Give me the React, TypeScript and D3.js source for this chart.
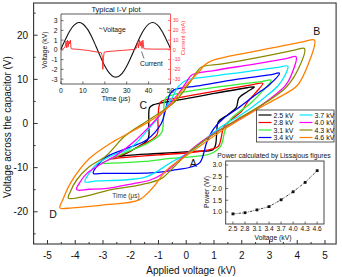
import React from "react";
import * as d3 from "d3";

type P = [number, number];

const legendLabels = ["2.5 kV", "2.8 kV", "3.1 kV", "3.4 kV", "3.7 kV", "4.0 kV", "4.3 kV", "4.6 kV"];
const loopColors = ["#000000", "#ff0000", "#33ee33", "#0000ff", "#00e8ff", "#ff00ff", "#8a8a00", "#ff7f00"];

// Lissajous loops: applied voltage (kV) vs capacitor voltage (V)
const loop25: P[] = [[-2.45,-7.5],[-2.1,-7.2],[-1.0,-6.8],[0.3,-6.3],[0.95,-6.0],[1.05,-5.0],[1.1,-2.0],[1.15,0.3],[1.5,2.0],[1.8,3.6],[1.9,5.8],[2.2,7.2],[2.46,8.3],[2.2,8.1],[1.0,6.8],[-0.2,5.4],[-1.2,4.2],[-1.32,3.6],[-1.35,0.0],[-1.38,-3.6],[-1.8,-5.5],[-2.2,-6.9]];
const loop28: P[] = [[-2.75,-8.0],[-2.4,-7.8],[-1.0,-7.1],[0.38,-6.4],[1.15,-5.2],[1.25,-3.5],[1.35,-0.8],[1.6,0.8],[2.0,2.8],[2.2,4.8],[2.5,7.0],[2.76,9.1],[2.4,8.8],[1.0,7.3],[-0.3,5.8],[-0.9,5.0],[-0.97,4.2],[-1.02,1.0],[-1.06,-2.6],[-1.7,-5.2],[-2.35,-7.2]];
const loop31: P[] = [[-3.05,-9.0],[-2.7,-9.0],[-1.5,-8.6],[-0.58,-7.9],[0.25,-7.5],[0.9,-6.8],[1.25,-5.0],[1.4,-1.5],[1.6,1.0],[1.9,2.6],[2.3,4.5],[2.7,7.0],[3.06,9.8],[2.7,9.5],[1.3,8.4],[0.0,7.2],[-0.7,6.0],[-0.78,5.2],[-0.82,1.5],[-0.9,-2.2],[-1.5,-4.8],[-2.2,-6.6],[-2.7,-8.0]];
const loop34: P[] = [[-3.35,-11.3],[-3.0,-11.3],[-2.0,-11.3],[-1.3,-11.2],[-0.5,-10.6],[0.2,-9.8],[0.5,-8.8],[0.75,-4.1],[1.0,-1.1],[1.35,1.2],[1.85,3.4],[2.5,6.5],[3.0,8.8],[3.36,11.4],[3.0,11.0],[1.8,10.0],[0.5,8.6],[-0.45,7.6],[-0.6,6.5],[-0.75,3.0],[-0.9,0.0],[-1.42,-3.7],[-2.0,-5.3],[-2.86,-7.5],[-3.2,-9.5]];
const loop37: P[] = [[-3.65,-13.2],[-3.2,-13.0],[-2.26,-12.8],[-1.5,-12.2],[-1.06,-10.9],[-0.6,-9.0],[0.2,-6.2],[0.7,-3.5],[1.3,-0.6],[2.1,2.5],[2.8,5.8],[3.3,8.5],[3.55,10.8],[3.66,13.0],[3.3,12.7],[2.0,11.6],[0.8,10.6],[0.0,9.8],[-0.3,8.3],[-0.45,6.5],[-0.8,3.0],[-1.3,-0.8],[-2.02,-5.6],[-2.7,-7.3],[-3.22,-9.2],[-3.5,-11.3]];
const loop40: P[] = [[-3.95,-15.0],[-3.5,-14.9],[-2.85,-14.7],[-1.9,-13.6],[-1.3,-12.8],[-0.8,-11.2],[-0.2,-8.0],[0.4,-4.8],[1.2,-1.5],[2.2,2.0],[3.0,5.5],[3.6,8.8],[3.85,12.0],[3.96,15.1],[3.6,14.7],[2.4,13.4],[1.0,12.0],[0.2,11.0],[0.02,9.5],[-0.25,7.0],[-0.7,3.6],[-1.3,-0.5],[-1.9,-4.2],[-2.5,-7.1],[-3.1,-9.3],[-3.58,-11.3],[-3.85,-13.5]];
const loop43: P[] = [[-4.25,-16.9],[-3.8,-16.7],[-2.7,-15.0],[-1.65,-13.9],[-0.9,-12.5],[-0.5,-10.2],[0.1,-6.5],[0.8,-3.2],[1.8,0.8],[2.8,4.5],[3.6,8.2],[4.05,12.5],[4.26,17.0],[3.9,16.6],[2.7,15.1],[1.3,13.5],[0.55,12.8],[0.35,11.4],[0.15,9.5],[-0.4,5.0],[-1.3,1.0],[-2.2,-2.8],[-2.9,-7.4],[-3.5,-9.8],[-3.95,-12.8],[-4.18,-15.5]];
const loop46: P[] = [[-4.55,-19.1],[-4.1,-19.1],[-2.9,-18.4],[-1.7,-17.3],[-1.2,-14.5],[-0.7,-10.5],[0.3,-6.0],[1.2,-2.0],[2.5,3.0],[3.3,5.8],[4.0,8.6],[4.4,13.5],[4.62,18.9],[4.2,18.5],[3.0,17.0],[1.6,15.3],[0.95,14.3],[0.65,13.2],[0.5,12.0],[0.0,8.7],[-0.8,2.8],[-1.9,-1.6],[-2.6,-4.0],[-3.5,-8.0],[-4.15,-13.3],[-4.45,-17.3]];
const loops = [loop25, loop28, loop31, loop34, loop37, loop40, loop43, loop46];

const xTicks = [-5, -4, -3, -2, -1, 0, 1, 2, 3, 4, 5];
const yTicks = [-20, -10, 0, 10, 20];
const cornerLabels = ["A", "B", "C", "D"];
const cornerPos: P[] = [[0.25, -9.0], [4.7, 21.0], [-1.55, 4.3], [-4.8, -20.5]];

// Inset: typical I-V plot
const ivTime = [0, 2, 4, 6, 8, 10, 12, 14, 16, 18, 20, 22, 24, 26, 28, 30, 32, 34, 36, 38, 40, 42, 44, 46, 48, 50];
const ivVoltage = [0.1, 1.06, 1.94, 2.54, 2.8, 2.66, 2.15, 1.35, 0.35, -0.69, -1.65, -2.36, -2.75, -2.76, -2.39, -1.68, -0.74, 0.3, 1.3, 2.12, 2.64, 2.8, 2.56, 1.96, 1.09, 0.15];
const curTime = [0, 0.8, 1.5, 2.0, 2.3, 2.6, 3.0, 3.3, 3.6, 4.0, 4.3, 4.6, 5.0, 8, 12, 16, 18.4, 18.8, 19.1, 19.4, 19.7, 20.2, 24, 28, 32, 34, 34.6, 35.0, 35.4, 35.8, 36.2, 36.6, 37.0, 37.4, 37.8, 38.5, 42, 46, 50];
const curValue = [0, 1, 2, 4, 9, 2, 10, 3, 9, 6, 10, 1.5, 1, 0.5, -0.5, -2, -3, -6, -20, -8, -2.5, -2, -1.2, -0.5, 0.2, 0.5, 3, 9, 2, 10, 4, 9, 1.5, 10, 1.5, 1, 0.8, 0.8, 0.8];
const ivXTicks = [0, 10, 20, 30, 40, 50];
const ivYTicks = [-3, -2, -1, 0, 1, 2, 3];
const curTicks = [30, 20, 10, 0, -10, -20, -30];

// Inset: power
const powerVoltage = [2.5, 2.8, 3.1, 3.4, 3.7, 4.0, 4.3, 4.6];
const powerValue = [0.92, 0.97, 1.09, 1.23, 1.52, 1.86, 2.26, 2.76];
const powerYTicks = [1.0, 1.5, 2.0, 2.5, 3.0];

const FONT = "'Liberation Sans', Arial, sans-serif";

export default function App() {
  const x = d3.scaleLinear().domain([-5.5, 5.4]).range([33.6, 336.1]);
  const y = d3.scaleLinear().domain([-27.3, 27.3]).range([244, 3]);
  const loopLine = d3.line<P>().x(d => x(d[0])).y(d => y(d[1])).curve(d3.curveCatmullRomClosed.alpha(0.5));

  const xMinor = d3.range(-5.5, 5.5, 0.5).filter(v => Math.abs(v - Math.round(v)) > 0.1);
  const yMinor = [-25, -15, -5, 5, 15, 25];

  // inset 1
  const ix = d3.scaleLinear().domain([0, 50]).range([61, 170.5]);
  const iy = d3.scaleLinear().domain([-3.5, 3.7]).range([84, 13.8]);
  const ivLine = d3.line<number>().x((d, i) => ix(ivTime[i])).y(d => iy(d)).curve(d3.curveCatmullRom);
  const curLine = d3.line<number>().x((d, i) => ix(curTime[i])).y(d => iy(d / 10));

  // inset 2
  const px = d3.scaleLinear().domain([2.32, 4.77]).range([225.7, 324]);
  const py = d3.scaleLinear().domain([0.49, 3.17]).range([224, 161]);
  const pLine = d3.line<number>().x((d, i) => px(powerVoltage[i])).y(d => py(d));

  return (
    <svg width={342} height={277} style={{ position: "absolute", left: 0, top: 0, background: "#fff" }} fontFamily={FONT}>
      <rect x={0} y={0} width={342} height={277} fill="#fff" />
      {/* loops */}
      <g fill="none" strokeWidth={1.3} strokeLinejoin="round">
        {loops.map((l, i) => (
          <path key={i} d={loopLine(l) || ""} stroke={loopColors[i]} />
        ))}
      </g>

      {/* frame */}
      <rect x={33.6} y={3} width={302.5} height={241} fill="none" stroke="#333" strokeWidth={1.1} />
      {xTicks.map(t => (
        <g key={"xt" + t}>
          <line x1={x(t)} x2={x(t)} y1={244} y2={240} stroke="#333" strokeWidth={1} />
          <text x={x(t)} y={258.5} fontSize={10} textAnchor="middle" fill="#111">{t}</text>
        </g>
      ))}
      {xMinor.map(t => (
        <line key={"xm" + t} x1={x(t)} x2={x(t)} y1={244} y2={242} stroke="#333" strokeWidth={1} />
      ))}
      {yTicks.map(t => (
        <g key={"yt" + t}>
          <line x1={33.6} x2={37.6} y1={y(t)} y2={y(t)} stroke="#333" strokeWidth={1} />
          <text x={28} y={y(t) + 3.5} fontSize={10} textAnchor="end" fill="#111">{t}</text>
        </g>
      ))}
      {yMinor.map(t => (
        <line key={"ym" + t} x1={33.6} x2={35.6} y1={y(t)} y2={y(t)} stroke="#333" strokeWidth={1} />
      ))}
      <text x={191} y={273.5} fontSize={10} textAnchor="middle" fill="#111">Applied voltage (kV)</text>
      <text transform="translate(11,127) rotate(-90)" fontSize={10} textAnchor="middle" fill="#111">Voltage across the capacitor (V)</text>

      {cornerLabels.map((c, i) => (
        <text key={c} x={x(cornerPos[i][0])} y={y(cornerPos[i][1]) + 4} fontSize={10.5} textAnchor="middle" fill="#111">{c}</text>
      ))}
      <text x={126} y={198} fontSize={6.5} textAnchor="middle" fill="#333">Time (μs)</text>

      {/* legend */}
      <rect x={256.5} y={110} width={77.5} height={32} fill="#fff" stroke="#333" strokeWidth={0.8} />
      {legendLabels.map((lab, i) => {
        const col = Math.floor(i / 4);
        const row = i % 4;
        const lx = col === 0 ? 258.5 : 299.5;
        const ly = 115 + row * 7.5;
        return (
          <g key={lab}>
            <line x1={lx} x2={lx + 13} y1={ly} y2={ly} stroke={loopColors[i]} strokeWidth={1.2} />
            <text x={lx + 15} y={ly + 2.5} fontSize={7} fill="#111">{lab}</text>
          </g>
        );
      })}

      {/* inset 1: I-V */}
      <text x={116} y={12} fontSize={7.5} textAnchor="middle" fill="#111">Typical I-V plot</text>
      <rect x={61} y={14} width={109.5} height={70} fill="#fff" stroke="none" />
      <path d={ivLine(ivVoltage) || ""} fill="none" stroke="#111" strokeWidth={1.1} />
      <path d={curLine(curValue) || ""} fill="none" stroke="#ff2020" strokeWidth={0.9} />
      <line x1={61} x2={170.5} y1={14} y2={14} stroke="#333" strokeWidth={0.8} />
      <line x1={61} x2={170.5} y1={84} y2={84} stroke="#333" strokeWidth={0.8} />
      <line x1={61} x2={61} y1={14} y2={84} stroke="#333" strokeWidth={0.8} />
      <line x1={170.5} x2={170.5} y1={14} y2={84} stroke="#ff3030" strokeWidth={0.8} />
      {ivXTicks.map(t => (
        <g key={"ix" + t}>
          <line x1={ix(t)} x2={ix(t)} y1={84} y2={81.5} stroke="#333" strokeWidth={0.7} />
          <text x={ix(t)} y={92.5} fontSize={6.8} textAnchor="middle" fill="#111">{t}</text>
        </g>
      ))}
      {ivYTicks.map(t => (
        <g key={"iy" + t}>
          <line x1={61} x2={63.5} y1={iy(t)} y2={iy(t)} stroke="#333" strokeWidth={0.7} />
          <text x={57.5} y={iy(t) + 2.4} fontSize={6.8} textAnchor="end" fill="#111">{t}</text>
        </g>
      ))}
      {curTicks.map(t => (
        <g key={"ic" + t}>
          <line x1={168} x2={170.5} y1={iy(t / 10)} y2={iy(t / 10)} stroke="#ff3030" strokeWidth={0.7} />
          <text x={173} y={iy(t / 10) + 1.8} fontSize={5} fill="#ff3030">{t}</text>
        </g>
      ))}
      <text transform="translate(46.5,50) rotate(-90)" fontSize={6.8} textAnchor="middle" fill="#111">Voltage (kV)</text>
      <text transform="translate(185,38) rotate(-90)" fontSize={6} textAnchor="middle" fill="#ff3030">Current (mA)</text>
      <text x={116} y={100.5} fontSize={6.8} textAnchor="middle" fill="#111">Time (μs)</text>
      <line x1={99} x2={102.5} y1={28} y2={29} stroke="#111" strokeWidth={0.6} />
      <text x={103} y={31.5} fontSize={6.8} fill="#111">Voltage</text>
      <line x1={141.5} x2={144} y1={51.5} y2={58.5} stroke="#111" strokeWidth={0.6} />
      <text x={140} y={65.5} fontSize={6.8} fill="#111">Current</text>

      {/* inset 2: power */}
      <text x={274} y={157.5} fontSize={6.8} textAnchor="middle" fill="#111">Power calculated by Lissajous figures</text>
      <rect x={225.7} y={161} width={98.3} height={63} fill="#fff" stroke="#333" strokeWidth={0.9} />
      {powerYTicks.map(t => (
        <g key={"py" + t}>
          <line x1={225.7} x2={228.2} y1={py(t)} y2={py(t)} stroke="#333" strokeWidth={0.7} />
          <text x={222} y={py(t) + 2.4} fontSize={6.8} textAnchor="end" fill="#111">{t.toFixed(1)}</text>
        </g>
      ))}
      {powerVoltage.map(v => (
        <g key={"px" + v}>
          <line x1={px(v)} x2={px(v)} y1={224} y2={221.5} stroke="#333" strokeWidth={0.7} />
          <text x={px(v)} y={230.5} fontSize={6.6} textAnchor="middle" fill="#111">{v.toFixed(1)}</text>
        </g>
      ))}
      <path d={pLine(powerValue) || ""} fill="none" stroke="#111" strokeWidth={0.8} strokeDasharray="2.5,1.2,0.8,1.2" />
      {powerValue.map((v, i) => (
        <rect key={"pm" + i} x={px(powerVoltage[i]) - 1.4} y={py(v) - 1.4} width={2.8} height={2.8} fill="#111" />
      ))}
      <text x={273} y={239.5} fontSize={6.8} textAnchor="middle" fill="#111">Voltage (kV)</text>
      <text transform="translate(209,192) rotate(-90)" fontSize={6.8} textAnchor="middle" fill="#111">Power (W)</text>
    </svg>
  );
}
